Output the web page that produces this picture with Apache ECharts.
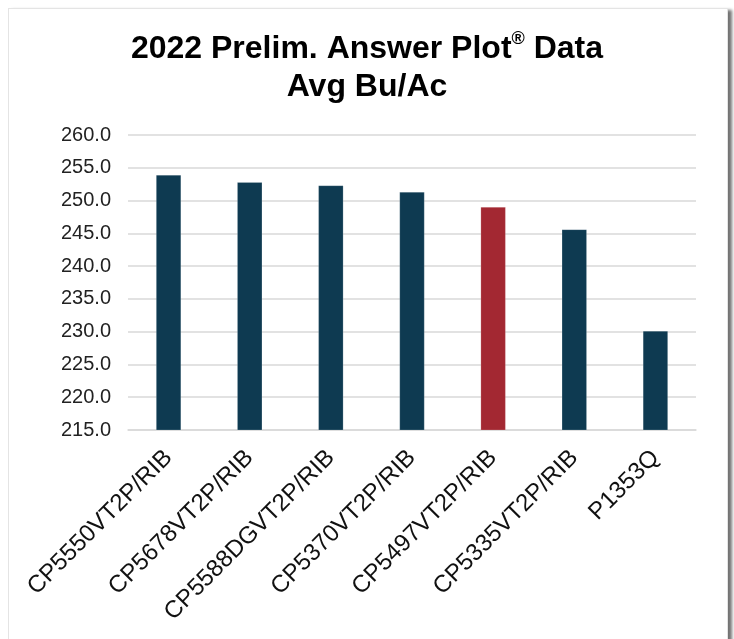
<!DOCTYPE html>
<html>
<head>
<meta charset="utf-8">
<script src="https://cdn.jsdelivr.net/npm/echarts@6/dist/echarts.min.js"></script>
<style>
  html, body { margin: 0; padding: 0; background: #fff; }
  #card {
    position: absolute; left: 8px; top: 8px; width: 718px; height: 660px;
    border: 1px solid #e4e4e4; box-shadow: 4px 2px 3px rgba(0,0,0,0.55);
    background: #fff;
  }
  #chart { position: absolute; left: 0; top: 0; width: 734px; height: 639px; }
</style>
</head>
<body>
<div id="card"></div>
<div id="chart"></div>
<script>
const hybrids = ['CP5550VT2P/RIB', 'CP5678VT2P/RIB', 'CP5588DGVT2P/RIB', 'CP5370VT2P/RIB', 'CP5497VT2P/RIB', 'CP5335VT2P/RIB', 'P1353Q'];
const avgBuAc = [253.9, 252.8, 252.3, 251.3, 249.0, 245.6, 230.1];
const highlighted = 'CP5497VT2P/RIB';

const navy = '#0e3a51';
const red = '#a32832';
const font = 'Liberation Sans, Arial, sans-serif';

const chart = echarts.init(document.getElementById('chart'));

const option = {
  backgroundColor: 'transparent',
  title: {
    text: '2022 Prelim. Answer Plot{sup|®} Data\nAvg Bu/Ac',
    left: 'center',
    top: 25,
    textStyle: {
      fontFamily: font,
      fontSize: 32,
      fontWeight: 'bold',
      color: '#000',
      lineHeight: 38,
      rich: {
        sup: {
          fontFamily: font,
          fontSize: 18,
          fontWeight: 'bold',
          color: '#000',
          verticalAlign: 'top',
          lineHeight: 38
        }
      }
    }
  },
  grid: {
    left: 128,
    right: 38,
    top: 135,
    bottom: 209
  },
  xAxis: {
    type: 'category',
    data: hybrids,
    axisLine: { show: true, lineStyle: { color: '#d9d9d9', width: 1.5 } },
    axisTick: { show: false },
    axisLabel: {
      rotate: 45,
      interval: 0,
      margin: 24,
      fontFamily: font,
      fontSize: 24,
      color: '#111'
    }
  },
  yAxis: {
    type: 'value',
    min: 215,
    max: 260,
    interval: 5,
    axisLine: { show: false },
    axisTick: { show: false },
    splitLine: { lineStyle: { color: '#d9d9d9', width: 1.5 } },
    axisLabel: {
      margin: 17,
      fontFamily: font,
      fontSize: 20,
      color: '#222',
      formatter: (v) => v.toFixed(1)
    }
  },
  series: [
    {
      type: 'bar',
      barWidth: 25,
      data: avgBuAc.map((v, i) => ({
        value: v,
        itemStyle: { color: hybrids[i] === highlighted ? red : navy }
      })),
      itemStyle: { borderColor: 'rgba(255,255,255,0.35)', borderWidth: 0.5 },
      animation: false
    }
  ]
};

chart.setOption(option);
</script>
</body>
</html>
